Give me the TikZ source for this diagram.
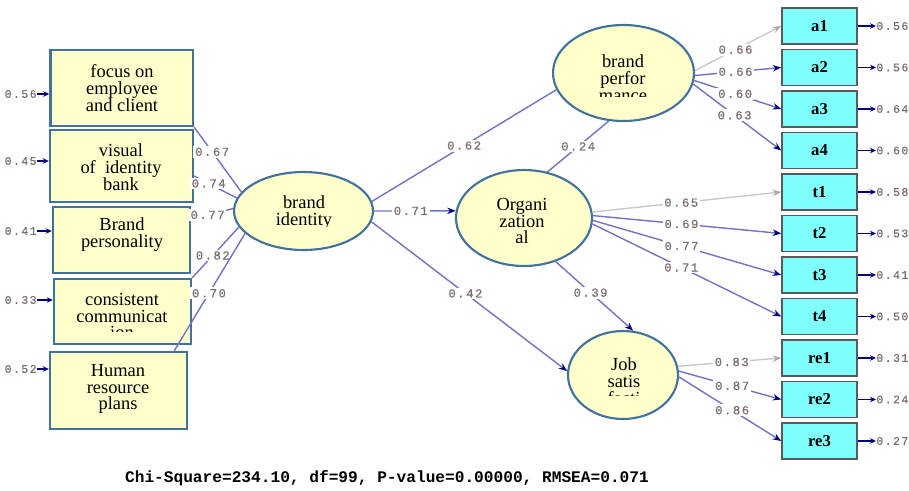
\documentclass[tikz,border=0pt]{standalone}
\usepackage{fontspec}
\setmainfont{Liberation Serif}
\newfontfamily\monofont{Liberation Mono}
\newfontfamily\labfont[LetterSpace=12,FakeBold=0.6]{Liberation Mono}
\usetikzlibrary{arrows.meta,shapes.geometric,calc}
\definecolor{pathc}{HTML}{7272C4}
\definecolor{tipc}{HTML}{00007F}
\definecolor{fixc}{HTML}{C8C8C8}
\definecolor{labc}{HTML}{7D6E72}
\definecolor{boxborder}{HTML}{41719C}
\definecolor{yel}{HTML}{FFFFCC}
\definecolor{cyanbox}{HTML}{80FFFF}
\definecolor{obsborder}{HTML}{5A5A5A}
\begin{document}
\begin{tikzpicture}[x=0.02cm,y=-0.02cm,
 ind/.style={draw=boxborder, line width=1.4pt, fill=yel, inner sep=0pt},
 lat/.style={ellipse, draw=boxborder, line width=1.2pt, fill=yel, inner sep=0pt},
 txt/.style={align=center, font=\fontsize{10.5}{9.6}\selectfont, inner sep=0pt},
 obs/.style={draw=obsborder, line width=0.85pt, fill=cyanbox, minimum width=1.5cm, minimum height=0.72cm, inner sep=0pt, font=\bfseries\fontsize{9.5}{10}\selectfont},
 pth/.style={draw=pathc, line width=0.8pt},
 arr/.style={pth, -{Stealth[color=tipc, length=0.17cm, width=0.13cm]}},
 fixarr/.style={draw=fixc, line width=0.8pt, -{Stealth[color=fixc!85!black, length=0.17cm, width=0.13cm]}},
 lab/.style={fill=white, inner sep=1pt, text=labc, font=\labfont\fontsize{7}{8}\selectfont},
 errlab/.style={inner sep=0pt, text=labc, font=\labfont\fontsize{6.6}{8}\selectfont},
 errarr/.style={draw=tipc, line width=1.1pt, -{Stealth[length=0.12cm,width=0.11cm]}},
]
\useasboundingbox (0,0) rectangle (909,490);

% left indicator boxes
\node[ind, minimum width=2.85cm, minimum height=1.52cm] (b1) at (121.75,88) {};
\node[txt] (tb1) at (122,88) {focus on\\employee\\and client};
\node[ind, minimum width=2.86cm, minimum height=1.44cm] (b2) at (121.5,166) {};
\node[txt] (tb2) at (121,167) {visual\\of~ identity\\bank};
\node[ind, minimum width=2.74cm, minimum height=1.32cm] (b3) at (121.5,240) {};
\node[txt] (tb3) at (122,235) {Brand\\personality};
\node[ind, minimum width=2.74cm, minimum height=1.30cm] (b4) at (122.5,311.5) {};
\begin{scope}
 \clip (54,279) rectangle (191,331);
 \node[txt] (tb4) at (122,316) {consistent\\communicat\\ion};
\end{scope}
\node[ind, minimum width=2.74cm, minimum height=1.54cm] (b5) at (118.5,390.5) {};
\node[txt] (tb5) at (118,389) {Human\\resource\\plans};

% left error terms
\foreach \k/\y/\e in {1/94/0.56, 2/161/0.45, 3/231/0.41, 4/300/0.33, 5/369/0.52}{
 \node[errlab, anchor=east] (el\k) at (37,\y) {\e};
 \draw[errarr] (el\k.east) -- (el\k.east -| b\k.west);
}

% latent variables
\node[lat, minimum width=2.78cm, minimum height=1.56cm] (bi) at (303.5,211) {};
\begin{scope}
 \clip (234,172) rectangle (373,226.5);
 \node[txt] (tbi) at (304,212.5) {brand\\identity};
\end{scope}
\node[lat, minimum width=2.82cm, minimum height=1.92cm] (bp) at (623.5,73) {};
\begin{scope}
 \clip (553,25) rectangle (694,96.5);
 \node[txt] (tbp) at (623,78) {brand\\perfor\\mance};
\end{scope}
\node[lat, minimum width=2.72cm, minimum height=1.92cm] (org) at (524,218) {};
\node[txt] (torg) at (522,221) {Organi\\zation\\al};
\node[lat, minimum width=2.2cm, minimum height=1.76cm] (job) at (623,375) {};
\begin{scope}
 \clip (568,331) rectangle (678,395.7);
 \node[txt] (tjob) at (624,381) {Job\\satis\\facti};
\end{scope}

% loadings of brand identity
\draw[pth] (b1.south east) -- node[lab,pos=0.38]{0.67} (bi.163);
\draw[pth] ($(b2.east)+(0,10)$) -- node[lab,pos=0.34]{0.74} (bi.169);
\draw[pth] ($(b3.east)+(0,-21)$) -- node[lab,pos=0.39]{0.77} (bi.178);
\draw[pth] (b4.north east) -- node[lab,pos=0.44]{0.82} (bi.194);
\draw[pth] ($(b5.north west)!0.9!(b5.north east)$) -- node[lab,pos=0.49]{0.70} (bi.201);

% structural paths
\draw[pth] (bi.8) -- node[lab,pos=0.5]{0.62} (bp.194);
\draw[arr] (bi.east) -- node[lab,pos=0.45]{0.71} (org.174);
\draw[arr] (bi.-9) -- node[lab,pos=0.48]{0.42} (job.176);
\draw[pth] (org.63) -- node[lab,pos=0.5]{0.24} (bp.253);
\draw[arr] (org.-54) -- node[lab,pos=0.45]{0.39} (job.77);

% observed indicators on the right
\foreach \n/\y/\e in {a1/26/0.56, a2/67.5/0.56, a3/109/0.64, a4/150.5/0.60, t1/192/0.58, t2/233.5/0.53, t3/275/0.41, t4/316.5/0.50, re1/358/0.31, re2/399.5/0.24, re3/441/0.27}{
 \node[obs] (\n) at (819.5,\y) {\n};
 \node[errlab, anchor=west] (e\n) at (876,\y) {\e};
 \draw[errarr] (\n.east) -- (e\n.west);
}

\draw[fixarr] (bp.2) -- node[lab,pos=0.47]{0.66} (a1.west);
\draw[arr] (bp.-2) -- node[lab,pos=0.47]{0.66} (a2.west);
\draw[arr] (bp.-6) -- node[lab,pos=0.47]{0.60} (a3.west);
\draw[arr] (bp.-9) -- node[lab,pos=0.47]{0.63} (a4.west);

\draw[fixarr] (org.5) -- node[lab,pos=0.47]{0.65} (t1.west);
\draw[arr] (org.2) -- node[lab,pos=0.47]{0.69} (t2.west);
\draw[arr] (org.-2) -- node[lab,pos=0.47]{0.77} (t3.west);
\draw[arr] (org.-5) -- node[lab,pos=0.47]{0.71} (t4.west);

\draw[fixarr] (job.9) -- node[lab,pos=0.52]{0.83} (re1.west);
\draw[arr] (job.4) -- node[lab,pos=0.52]{0.87} (re2.west);
\draw[arr] (job.-2) -- node[lab,pos=0.52]{0.86} (re3.west);

\node[font=\monofont\bfseries\fontsize{9.2}{10}\selectfont, inner sep=0pt] (fitline) at (387,478) {Chi-Square=234.10, df=99, P-value=0.00000, RMSEA=0.071};
\end{tikzpicture}
\end{document}
